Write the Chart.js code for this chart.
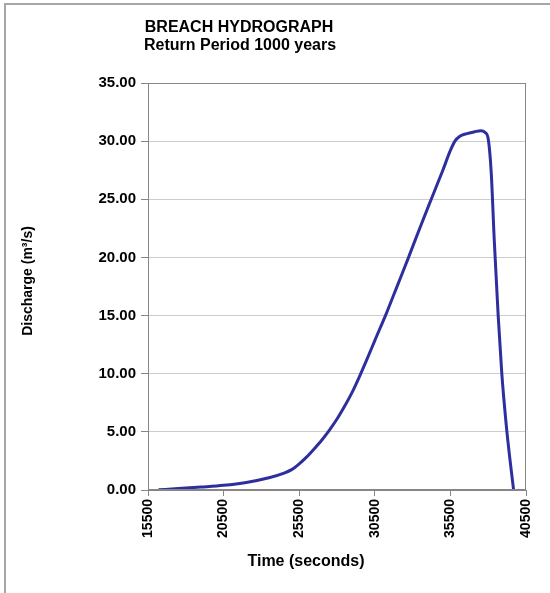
<!DOCTYPE html>
<html>
<head>
<meta charset="utf-8">
<script src="https://cdn.jsdelivr.net/npm/chart.js@4.4.0/dist/chart.umd.min.js"></script>
<style>
  body { margin: 0; background: #fff; }
  #wrap { position: relative; width: 550px; height: 593px; }
  #frame { position: absolute; left: 4px; top: 3px; right: 0; bottom: 0;
           border-left: 2px solid #a6a6a6; border-top: 2px solid #a6a6a6; }
  canvas { position: absolute; left: 0; top: 0; }
</style>
</head>
<body>
<div id="wrap">
  <div id="frame"></div>
  <canvas id="canvas-1" width="550" height="593"></canvas>
</div>
<script>
const timeSeconds = [16200, 17500, 19000, 20500, 22000, 23500, 24500, 25000, 25500, 26000,
  26500, 27000, 27500, 28000, 28500, 29000, 29500, 30000, 30500, 31300,
  32000, 32700, 33500, 34200, 35000, 35500, 35800, 36100, 36600, 37100,
  37500, 37800, 38000, 38200, 38400, 38660, 38900, 39200, 39450, 39680];
const discharge = [0.02, 0.12, 0.25, 0.4, 0.65, 1.05, 1.45, 1.75, 2.25, 2.85,
  3.55, 4.3, 5.15, 6.1, 7.2, 8.4, 9.8, 11.3, 12.85, 15.3,
  17.6, 19.9, 22.6, 24.9, 27.5, 29.2, 30.0, 30.4, 30.65, 30.8,
  30.9, 30.75, 30.2, 27.3, 21.5, 15.0, 10.0, 5.5, 2.5, 0.0];
const xTicks = [15500, 20500, 25500, 30500, 35500, 40500];
const yTicks = [0, 5, 10, 15, 20, 25, 30, 35];

const titleText = "BREACH HYDROGRAPH";
const subtitleText = "Return Period 1000 years";
const xTitle = "Time (seconds)";
const yTitle = "Discharge (m\u00b3/s)";

const FONT = "'Liberation Sans', Arial, sans-serif";

const textPlugin = {
  id: "texts",
  afterDraw(chart) {
    const ctx = chart.ctx;
    const a = chart.chartArea;
    ctx.save();
    ctx.strokeStyle = "#868686";
    ctx.lineWidth = 1;
    ctx.strokeRect(a.left + 0.5, a.top + 0.5, a.right - a.left - 1, a.bottom - a.top - 1);
    ctx.fillStyle = "#000";
    ctx.textAlign = "center";
    ctx.textBaseline = "middle";
    ctx.font = "bold 16px " + FONT;
    ctx.fillText(titleText, 239, 28);
    ctx.fillText(subtitleText, 240, 46);
    ctx.fillText(xTitle, 306, 562);
    ctx.translate(28, 281);
    ctx.rotate(-Math.PI / 2);
    ctx.font = "bold 14px " + FONT;
    ctx.fillText(yTitle, 0, 0);
    ctx.restore();
  },
};

const hydroChart = new Chart(document.getElementById("canvas-1"), {
  type: "line",
  data: {
    datasets: [
      {
        data: timeSeconds.map((t, i) => ({ x: t, y: discharge[i] })),
        borderColor: "#2e2e9e",
        borderWidth: 3,
        pointRadius: 0,
        cubicInterpolationMode: "monotone",
        fill: false,
      },
    ],
  },
  options: {
    responsive: false,
    animation: false,
    layout: { padding: { left: 0, right: 24, top: 83, bottom: 0 } },
    plugins: { legend: { display: false }, tooltip: { enabled: false } },
    scales: {
      x: {
        type: "linear",
        min: 15500,
        max: 40500,
        afterBuildTicks: (s) => { s.ticks = xTicks.map((v) => ({ value: v })); },
        afterFit: (s) => { s.height = 103; },
        border: { color: "#868686", width: 1 },
        grid: { drawOnChartArea: false, tickLength: 6, tickColor: "#868686" },
        ticks: {
          minRotation: 90,
          maxRotation: 90,
          padding: 3,
          color: "#000",
          font: { family: FONT, size: 14, weight: "bold" },
          callback: (v) => String(v),
        },
      },
      y: {
        min: 0,
        max: 35,
        afterBuildTicks: (s) => { s.ticks = yTicks.map((v) => ({ value: v })); },
        afterFit: (s) => { s.width = 148; },
        border: { color: "#868686", width: 1 },
        grid: { color: "#cccccc", lineWidth: 1, tickLength: 7, tickColor: "#868686" },
        ticks: {
          padding: 5,
          color: "#000",
          font: { family: FONT, size: 15, weight: "bold" },
          callback: (v) => v.toFixed(2),
        },
      },
    },
  },
  plugins: [textPlugin],
});
</script>
</body>
</html>
